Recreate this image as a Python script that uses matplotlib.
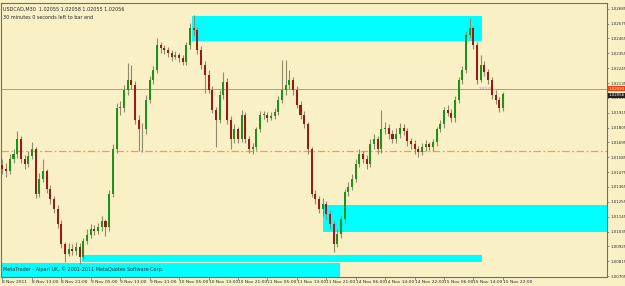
import matplotlib
matplotlib.use("Agg")
import matplotlib.pyplot as plt
from matplotlib.patches import Rectangle

# hourly candles, USDCAD 8-15 Nov 2011
opens = [1.01530, 1.01495, 1.01481, 1.01569, 1.01606, 1.01717, 1.01569, 1.01532, 1.01591, 1.01643,
         1.01311, 1.01422, 1.01481, 1.01348, 1.01274, 1.01200, 1.01090, 1.00942, 1.00868, 1.00905,
         1.00890, 1.00920, 1.00846, 1.00964, 1.01008, 1.01053, 1.01038, 1.01067, 1.01112, 1.01067,
         1.01311, 1.01643, 1.01953, 1.01953, 1.02086, 1.02160, 1.02123, 1.01864, 1.01791, 1.01791,
         1.02012, 1.02160, 1.02233, 1.02418, 1.02396, 1.02381, 1.02359, 1.02329, 1.02344, 1.02322,
         1.02292, 1.02418, 1.02543, 1.02529, 1.02381, 1.02270, 1.02197, 1.02086, 1.01938, 1.01864,
         1.02049, 1.02145, 1.01864, 1.01717, 1.01791, 1.01717, 1.01901, 1.01717, 1.01643, 1.01658,
         1.01791, 1.01901, 1.01901, 1.01879, 1.01894, 1.01923, 1.02012, 1.02086, 1.02123, 1.02160,
         1.02086, 1.01975, 1.01901, 1.01828, 1.01643, 1.01311, 1.01274, 1.01200, 1.01237, 1.01163,
         1.01090, 1.00942, 1.01016, 1.01126, 1.01326, 1.01363, 1.01422, 1.01532, 1.01606, 1.01569,
         1.01532, 1.01680, 1.01717, 1.01643, 1.01791, 1.01805, 1.01754, 1.01717, 1.01754, 1.01805,
         1.01776, 1.01702, 1.01680, 1.01643, 1.01621, 1.01658, 1.01680, 1.01658, 1.01695, 1.01791,
         1.01828, 1.01938, 1.01916, 1.01879, 1.02012, 1.02160, 1.02233, 1.02492, 1.02543, 1.02418,
         1.02160, 1.02270, 1.02219, 1.02160, 1.02049, 1.02012, 1.01953]
highs = [1.01569, 1.01540, 1.01610, 1.01650, 1.01776, 1.01740, 1.01600, 1.01630, 1.01695, 1.01660,
         1.01470, 1.01569, 1.01500, 1.01380, 1.01300, 1.01230, 1.01120, 1.00960, 1.00950, 1.00940,
         1.00960, 1.00950, 1.00990, 1.01050, 1.01090, 1.01080, 1.01100, 1.01150, 1.01130, 1.01340,
         1.01680, 1.01990, 1.02000, 1.02120, 1.02285, 1.02270, 1.02150, 1.01900, 1.01840, 1.02050,
         1.02190, 1.02260, 1.02470, 1.02440, 1.02420, 1.02400, 1.02380, 1.02370, 1.02360, 1.02340,
         1.02440, 1.02580, 1.02639, 1.02550, 1.02410, 1.02300, 1.02230, 1.02110, 1.01960, 1.02080,
         1.02219, 1.02170, 1.01890, 1.01830, 1.01810, 1.01938, 1.01920, 1.01740, 1.01690, 1.01810,
         1.01930, 1.01930, 1.01920, 1.01920, 1.01950, 1.02040, 1.02307, 1.02307, 1.02233, 1.02180,
         1.02110, 1.02000, 1.01930, 1.01850, 1.01660, 1.01340, 1.01300, 1.01280, 1.01260, 1.01190,
         1.01110, 1.01050, 1.01150, 1.01350, 1.01400, 1.01460, 1.01570, 1.01650, 1.01630, 1.01600,
         1.01720, 1.01760, 1.01740, 1.01938, 1.01850, 1.01830, 1.01790, 1.01800, 1.01840, 1.01830,
         1.01800, 1.01730, 1.01710, 1.01670, 1.01690, 1.01710, 1.01700, 1.01720, 1.01810, 1.01860,
         1.01960, 1.01970, 1.01940, 1.02040, 1.02180, 1.02260, 1.02520, 1.02617, 1.02560, 1.02440,
         1.02344, 1.02300, 1.02240, 1.02180, 1.02080, 1.02030, 1.02070]
lows = [1.01460, 1.01440, 1.01460, 1.01540, 1.01580, 1.01540, 1.01500, 1.01510, 1.01570, 1.01280,
        1.01290, 1.01400, 1.01320, 1.01240, 1.01170, 1.01060, 1.00910, 1.00809, 1.00850, 1.00860,
        1.00860, 1.00794, 1.00830, 1.00940, 1.00990, 1.01010, 1.01020, 1.01040, 1.01001, 1.01040,
        1.01290, 1.01620, 1.01900, 1.01920, 1.02050, 1.02090, 1.01830, 1.01628, 1.01621, 1.01760,
        1.01990, 1.02130, 1.02210, 1.02360, 1.02350, 1.02330, 1.02300, 1.02310, 1.02290, 1.02270,
        1.02270, 1.02390, 1.02490, 1.02350, 1.02240, 1.02064, 1.02060, 1.01910, 1.01658, 1.01840,
        1.02020, 1.01830, 1.01643, 1.01690, 1.01690, 1.01700, 1.01690, 1.01620, 1.01610, 1.01640,
        1.01770, 1.01870, 1.01850, 1.01860, 1.01870, 1.01900, 1.01990, 1.02050, 1.02090, 1.02050,
        1.01950, 1.01870, 1.01800, 1.01610, 1.01290, 1.01240, 1.01170, 1.01150, 1.01130, 1.01050,
        1.00883, 1.00920, 1.00990, 1.01100, 1.01300, 1.01340, 1.01400, 1.01510, 1.01540, 1.01500,
        1.01510, 1.01650, 1.01610, 1.01620, 1.01760, 1.01720, 1.01690, 1.01690, 1.01730, 1.01750,
        1.01670, 1.01650, 1.01610, 1.01590, 1.01600, 1.01630, 1.01640, 1.01630, 1.01670, 1.01770,
        1.01800, 1.01890, 1.01850, 1.01850, 1.01990, 1.02130, 1.02210, 1.02470, 1.02390, 1.02130,
        1.02140, 1.02190, 1.02130, 1.02020, 1.01980, 1.01920, 1.01930]
closes = [1.01495, 1.01481, 1.01569, 1.01606, 1.01717, 1.01569, 1.01532, 1.01591, 1.01643, 1.01311,
          1.01422, 1.01481, 1.01348, 1.01274, 1.01200, 1.01090, 1.00942, 1.00868, 1.00905, 1.00890,
          1.00920, 1.00846, 1.00964, 1.01008, 1.01053, 1.01038, 1.01067, 1.01112, 1.01067, 1.01311,
          1.01643, 1.01953, 1.01953, 1.02086, 1.02160, 1.02123, 1.01864, 1.01791, 1.01791, 1.02012,
          1.02160, 1.02233, 1.02418, 1.02396, 1.02381, 1.02359, 1.02329, 1.02344, 1.02322, 1.02292,
          1.02418, 1.02543, 1.02529, 1.02381, 1.02270, 1.02197, 1.02086, 1.01938, 1.01864, 1.02049,
          1.02145, 1.01864, 1.01717, 1.01791, 1.01717, 1.01901, 1.01717, 1.01643, 1.01658, 1.01791,
          1.01901, 1.01901, 1.01879, 1.01894, 1.01923, 1.02012, 1.02086, 1.02123, 1.02160, 1.02086,
          1.01975, 1.01901, 1.01828, 1.01643, 1.01311, 1.01274, 1.01200, 1.01237, 1.01163, 1.01090,
          1.00942, 1.01016, 1.01126, 1.01326, 1.01363, 1.01422, 1.01532, 1.01606, 1.01569, 1.01532,
          1.01680, 1.01717, 1.01643, 1.01791, 1.01805, 1.01754, 1.01717, 1.01754, 1.01805, 1.01776,
          1.01702, 1.01680, 1.01643, 1.01621, 1.01658, 1.01680, 1.01658, 1.01695, 1.01791, 1.01828,
          1.01938, 1.01916, 1.01879, 1.02012, 1.02160, 1.02233, 1.02492, 1.02543, 1.02418, 1.02160,
          1.02270, 1.02219, 1.02160, 1.02049, 1.02012, 1.01953, 1.02056]

time_labels = ["8 Nov 2011", "8 Nov 13:00", "8 Nov 21:00", "9 Nov 05:00", "9 Nov 13:00",
               "9 Nov 21:00", "10 Nov 05:00", "10 Nov 13:00", "10 Nov 21:00", "11 Nov 05:00",
               "11 Nov 13:00", "11 Nov 21:00", "14 Nov 06:00", "14 Nov 14:00", "14 Nov 22:00",
               "15 Nov 06:00", "15 Nov 14:00", "15 Nov 22:00"]
price_ticks = [1.00705, 1.00815, 1.00925, 1.01035, 1.01145, 1.01255, 1.01365, 1.01475, 1.01585,
               1.01695, 1.01805, 1.01915, 1.02025, 1.02135, 1.02245, 1.02355, 1.02465, 1.02575,
               1.02685]

# supply/demand zones: (start bar, end bar, low price, high price)
zones = [(51.4, 130.4, 1.02447, 1.02632),
         (87.2, 170.0, 1.01030, 1.01230),
         (21.5, 130.4, 1.00809, 1.00861),
         (-1.0, 91.8, 1.00690, 1.00802)]
hline_price = 1.02093
dashdot_price = 1.01628
bid_price = 1.02056

bg = "#FAF0C6"
bull = "#1F8F1F"
bear = "#9A1A1A"
wick = "#8E8C6A"
axis_col = "#6E6E6E"
txt = "#2A2A2A"
fs = 3.2
yfs = 2.9

plt.rcParams["hatch.color"] = "white"
plt.rcParams["hatch.linewidth"] = 0.35

fig = plt.figure(figsize=(6.25, 2.86), dpi=100, facecolor=bg)
ax = fig.add_axes([1 / 625, 9 / 286, 606 / 625, 274 / 286])
ax.set_facecolor(bg)
ax.patch.set_hatch("....")

for x0, x1, lo, hi in zones:
    ax.add_patch(Rectangle((x0, lo), x1 - x0, hi - lo, facecolor="#00FFFF",
                           edgecolor="none", zorder=1))

xs = list(range(len(closes)))
ax.vlines(xs, lows, highs, color=wick, lw=0.8, zorder=3)
for i in xs:
    o, c = opens[i], closes[i]
    col = bull if c >= o else bear
    ax.bar(i, abs(c - o) if abs(c - o) > 0.00002 else 0.00002, bottom=min(o, c),
           width=0.55, color=col, edgecolor="none", zorder=4)

ax.axhline(hline_price, color="#F0844E", lw=0.7, zorder=2)
ax.axhline(dashdot_price, color="#F59A5C", lw=0.9, ls=(0, (6, 2, 1.5, 2)), zorder=2)

ax.set_xlim(-0.4, 164.3)
ax.set_ylim(1.00698, 1.02728)

ax.set_xticks(list(range(0, 8 * len(time_labels), 8)))
ax.set_xticklabels(time_labels, fontsize=fs, ha="left", color=txt)
ax.yaxis.tick_right()
ax.set_yticks(price_ticks)
ax.set_yticklabels([f"{p:.5f}" for p in price_ticks], fontsize=yfs, color=txt)
ax.tick_params(axis="x", length=2, width=0.5, pad=0.5, color=axis_col)
ax.tick_params(axis="y", length=1.5, width=0.5, pad=0.8, color=axis_col)
for s in ax.spines.values():
    s.set_color(axis_col)
    s.set_linewidth(0.8)

# price labels on the right axis
ax.text(1.002, hline_price, f"{hline_price:.5f}", transform=ax.get_yaxis_transform(),
        fontsize=yfs, color="white", va="center", ha="left",
        bbox=dict(boxstyle="square,pad=0.1", fc="#F04010", ec="none"), clip_on=False)
ax.text(1.002, bid_price - 0.00012, f"{bid_price:.5f}", transform=ax.get_yaxis_transform(),
        fontsize=yfs, color="white", va="center", ha="left",
        bbox=dict(boxstyle="square,pad=0.1", fc="#202020", ec="none"), clip_on=False)

ax.text(129.5, hline_price, "1.02.0", fontsize=3.0, color="#E060C0", va="center", zorder=5)

ax.text(0.004, 0.985, "USDCAD,M30  1.02055 1.02058 1.02055 1.02056",
        transform=ax.transAxes, fontsize=3.5, va="top", color=txt)
ax.text(0.004, 0.957, "30 minutes 0 seconds left to bar end",
        transform=ax.transAxes, fontsize=3.5, va="top", color=txt)
ax.text(0.004, 0.03, "MetaTrader - Alpari UK, \u00a9 2001-2011 MetaQuotes Software Corp.",
        transform=ax.transAxes, fontsize=3.5, va="center", color=txt, zorder=6)

fig.savefig("out.png", dpi=100, facecolor=bg)
